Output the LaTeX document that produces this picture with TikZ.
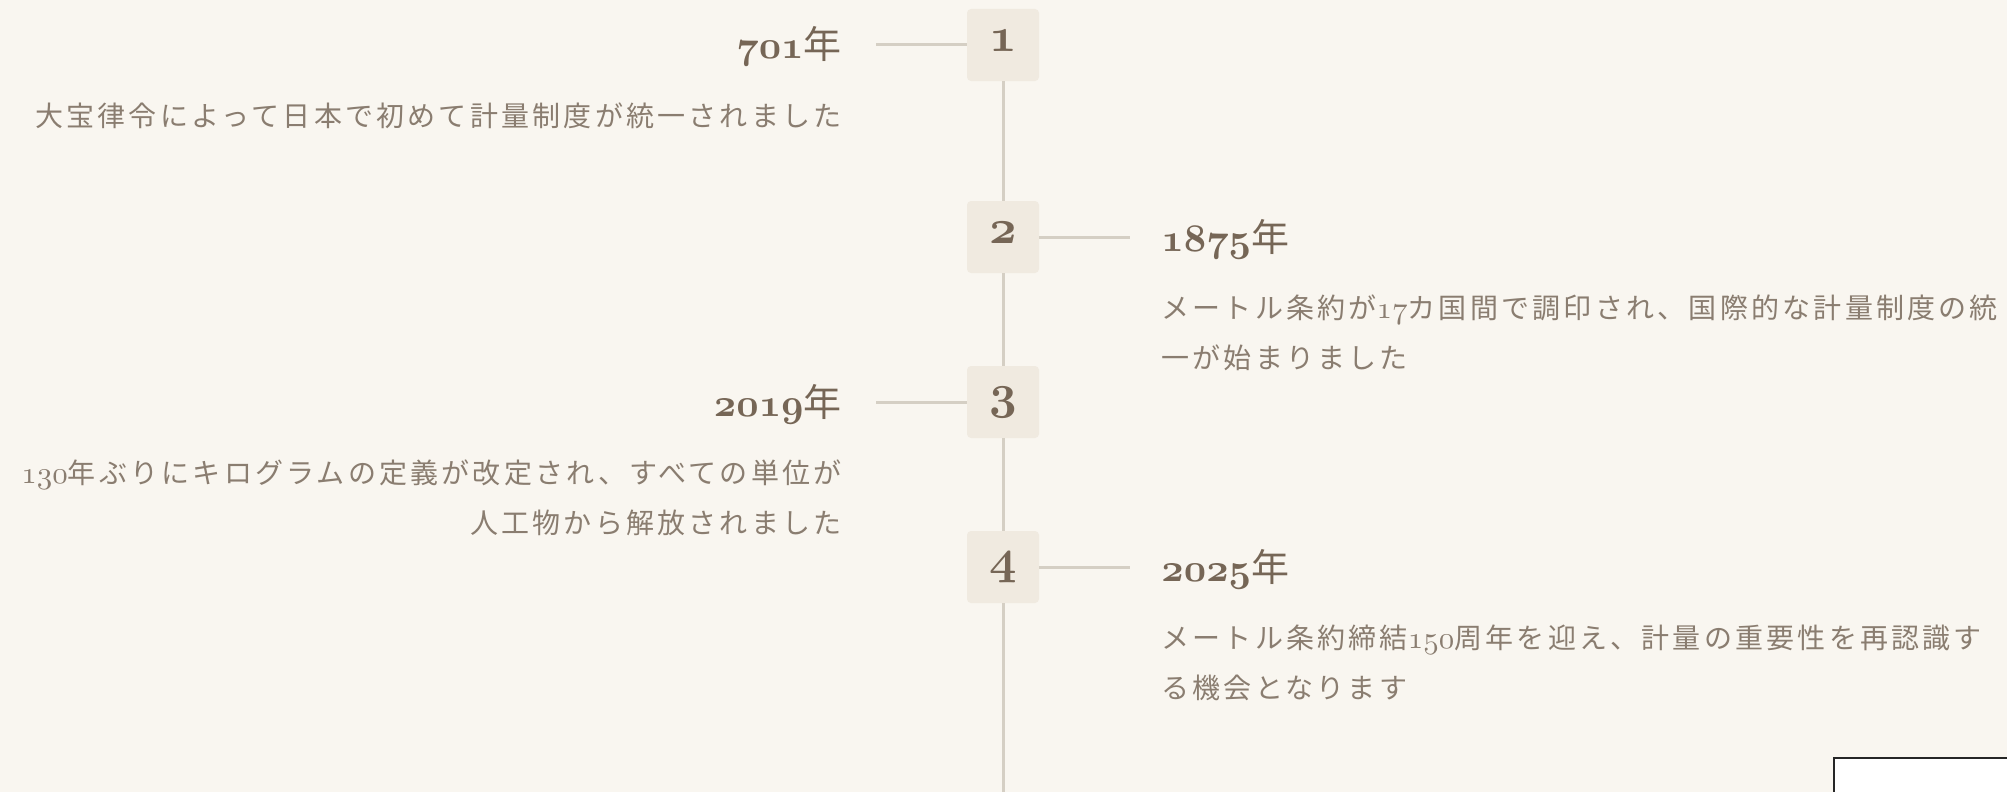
\documentclass[tikz,border=0pt]{standalone}
\usepackage{fontspec}
\newfontfamily\jpfont{Noto Sans CJK JP}[LetterSpace=11.5]
\newfontfamily\jpyear{Noto Sans CJK JP}
\usetikzlibrary{positioning}
\definecolor{paper}{HTML}{F9F6F0}
\definecolor{boxfill}{HTML}{F0EAE0}
\definecolor{tlline}{HTML}{D5CFC4}
\definecolor{yearink}{HTML}{766656}
\definecolor{textink}{HTML}{8A7D70}
\font\boxdigits=cmmib10 at 48pt
\font\yeardigits=cmmib10 at 39pt
\font\textdigits=cmmi10 at 31pt
\newcommand\osn[1]{{\boxdigits #1}}
\newcommand\osy[1]{{\yeardigits #1}}
\newcommand\osm[1]{{\textdigits #1}}

\begin{document}
\begin{tikzpicture}[x=1pt,y=-1pt,
 nb/.style={fill=boxfill,rounded corners=4pt,minimum width=72pt,minimum height=72pt,inner sep=0pt,text=yearink,text height=20pt,text depth=7pt},
 yr/.style={inner sep=0pt,text=yearink,font=\fontsize{38}{38}\selectfont,text height=30pt,text depth=2pt},
 ds/.style={inner sep=0pt,text=textink,font=\fontsize{28}{50}\selectfont\jpfont},
 tick/.style={draw=tlline,line width=3pt},
 spine/.style={draw=tlline,line width=3pt}]
\useasboundingbox[fill=paper] (0,0) rectangle (2007,792);
% timeline boxes
\node[nb] (n1) at (1003,45) {\osn{1}};
\node[nb] (n2) at (1003,237) {\osn{2}};
\node[nb] (n3) at (1003,402) {\osn{3}};
\node[nb] (n4) at (1003,567) {\osn{4}};
\coordinate (bot) at (1003,795);
\draw[spine] (n1.south)--(n2.north);\draw[spine] (n2.south)--(n3.north);\draw[spine] (n3.south)--(n4.north);\draw[spine] (n4.south)--(bot);
% ticks
\coordinate[left=91pt of n1.west] (t1);
\coordinate[right=91pt of n2.east] (t2);
\coordinate[left=91pt of n3.west] (t3);
\coordinate[right=91pt of n4.east] (t4);
\draw[tick] (n1.west)--(t1);\draw[tick] (n2.east)--(t2);\draw[tick] (n3.west)--(t3);\draw[tick] (n4.east)--(t4);
% years
\node[yr,left=34pt of t1] (y1) {\osy{701}{\jpyear 年}};
\node[yr,right=31pt of t2] (y2) {\osy{1875}{\jpyear 年}};
\node[yr,left=34pt of t3] (y3) {\osy{2019}{\jpyear 年}};
\node[yr,right=31pt of t4] (y4) {\osy{2025}{\jpyear 年}};
% texts
\node[ds,align=right,below left=41pt and 0pt of y1.south east] (d1) {大宝律令によって日本で初めて計量制度が統一されました};
\node[ds,align=left,below right=41pt and 0pt of y2.south west] (d2) {メートル条約が\osm{17}カ国間で調印され、国際的な計量制度の統\\一が始まりました};
\node[ds,align=right,below left=41pt and 0pt of y3.south east] (d3) {\osm{130}年ぶりにキログラムの定義が改定され、すべての単位が\\人工物から解放されました};
\node[ds,align=left,below right=41pt and 0pt of y4.south west] (d4) {メートル条約締結\osm{150}周年を迎え、計量の重要性を再認識す\\る機会となります};
\draw[black!85,line width=2pt,fill=white] (1834,758) rectangle (2012,800);
\end{tikzpicture}
\end{document}
